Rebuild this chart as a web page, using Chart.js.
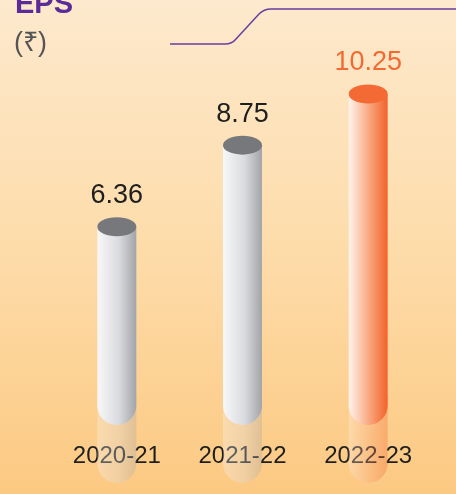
<!DOCTYPE html>
<html>
<head>
<meta charset="utf-8">
<script src="https://cdn.jsdelivr.net/npm/chart.js@4.4.1/dist/chart.umd.min.js"></script>
<style>
  html, body { margin: 0; padding: 0; }
  #wrap {
    width: 456px;
    height: 494px;
    background: linear-gradient(to bottom, #fde9cd 0%, #fddcaa 50%, #fcc982 100%);
  }
</style>
</head>
<body>
<div id="wrap"><canvas id="myChart" width="456" height="494"></canvas></div>
<script>
const years = ["2020-21", "2021-22", "2022-23"];
const eps = [6.36, 8.75, 10.25];
const labelColors = ["#1e1e1e", "#1e1e1e", "#f26a32"];

const FONT = '"Liberation Sans", Arial, sans-serif';

const gray = { light: "#f8f8f9", mid: "#dadbde", dark: "#a2a4a9", top: "#77787c" };
const orange = { light: "#fff3ec", mid: "#f9a47a", dark: "#f2622a", top: "#f36a34" };

function sideGradient(ctx, left, right, c) {
  const g = ctx.createLinearGradient(left, 0, right, 0);
  g.addColorStop(0, c.light);
  g.addColorStop(0.55, c.mid);
  g.addColorStop(1, c.dark);
  return g;
}

const cylinders = {
  id: "cylinders",
  beforeDatasetsDraw(chart) {
    const ctx = chart.ctx;
    ctx.save();
    // heading
    ctx.fillStyle = "#5b2b99";
    ctx.font = "bold 29px " + FONT;
    ctx.textBaseline = "alphabetic";
    ctx.fillText("EPS", 15, 13);
    ctx.fillStyle = "#555555";
    ctx.font = "27px " + FONT;
    ctx.fillText("(₹)", 14, 51);
    // purple line
    ctx.strokeStyle = "#6a3da0";
    ctx.lineWidth = 1.5;
    ctx.beginPath();
    ctx.moveTo(170, 44);
    ctx.lineTo(225, 44);
    ctx.quadraticCurveTo(232, 44, 236, 39);
    ctx.lineTo(259, 14);
    ctx.quadraticCurveTo(264, 9, 271, 9);
    ctx.lineTo(456, 9);
    ctx.stroke();
    ctx.restore();
  },
  afterDatasetsDraw(chart) {
    const ctx = chart.ctx;
    const meta = chart.getDatasetMeta(0);
    meta.data.forEach((bar, i) => {
      const c = i === 2 ? orange : gray;
      const r = bar.width / 2;
      const left = bar.x - r;
      const right = bar.x + r;
      const bottom = bar.base - 19;
      ctx.save();
      // reflection
      ctx.globalAlpha = 0.32;
      ctx.fillStyle = sideGradient(ctx, left, right, c);
      ctx.beginPath();
      ctx.moveTo(left, bottom - 30);
      ctx.lineTo(left, bar.base + 39 - r);
      ctx.ellipse(bar.x, bar.base + 39 - r, r, r, 0, Math.PI, 0, true);
      ctx.lineTo(right, bottom - 30);
      ctx.closePath();
      ctx.fill();
      ctx.globalAlpha = 1;
      // body
      ctx.fillStyle = sideGradient(ctx, left, right, c);
      ctx.beginPath();
      ctx.moveTo(left, bar.y);
      ctx.lineTo(left, bottom - r);
      ctx.ellipse(bar.x, bottom - r, r, r, 0, Math.PI, 0, true);
      ctx.lineTo(right, bar.y);
      ctx.closePath();
      ctx.fill();
      // top
      ctx.fillStyle = c.top;
      ctx.beginPath();
      ctx.ellipse(bar.x, bar.y, r, 9.5, 0, 0, Math.PI * 2);
      ctx.fill();
      // value
      ctx.fillStyle = labelColors[i];
      ctx.font = "27px " + FONT;
      ctx.textAlign = "center";
      ctx.textBaseline = "middle";
      ctx.fillText(eps[i].toFixed(2), bar.x, bar.y - 31);
      ctx.restore();
    });
  }
};

new Chart(document.getElementById("myChart"), {
  type: "bar",
  data: {
    labels: years,
    datasets: [
      {
        data: eps,
        backgroundColor: "rgba(0,0,0,0)",
        borderWidth: 0,
        barPercentage: 0.31,
        categoryPercentage: 1,
      },
    ],
  },
  options: {
    responsive: false,
    animation: false,
    layout: {
      padding: { left: 54, right: 25, top: 0, bottom: 26 },
    },
    scales: {
      x: {
        z: 1,
        border: { display: false },
        grid: { display: false, drawTicks: false },
        ticks: {
          padding: 0,
          color: "#1e1e1e",
          font: { family: FONT, size: 24, lineHeight: 1.0 },
        },
      },
      y: {
        display: false,
        min: 0,
        max: 13,
      },
    },
    plugins: {
      legend: { display: false },
      tooltip: { enabled: false },
    },
  },
  plugins: [cylinders],
});
</script>
</body>
</html>
